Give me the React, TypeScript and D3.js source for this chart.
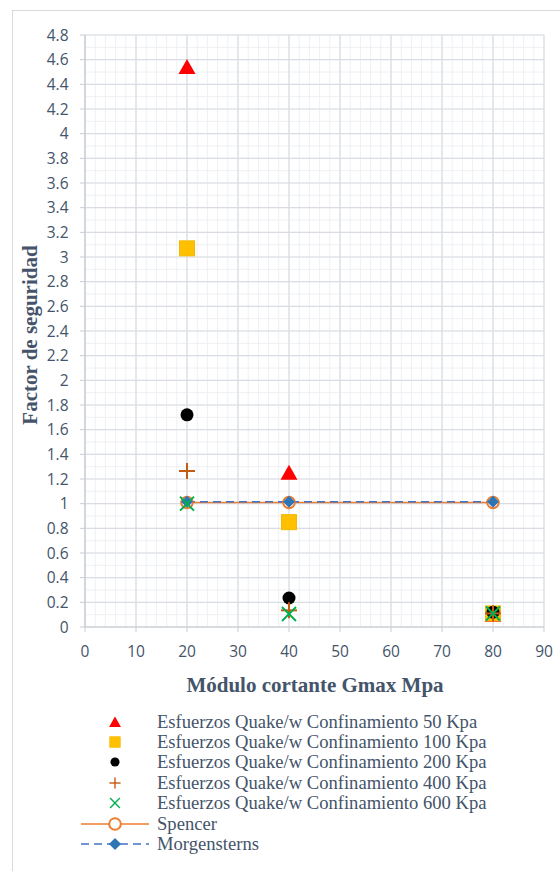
import React from "react";
import * as d3 from "d3";

const xTicks = [0, 10, 20, 30, 40, 50, 60, 70, 80, 90];
const yTicks = [0, 0.2, 0.4, 0.6, 0.8, 1, 1.2, 1.4, 1.6, 1.8, 2, 2.2, 2.4, 2.6, 2.8, 3, 3.2, 3.4, 3.6, 3.8, 4, 4.2, 4.4, 4.6, 4.8];
const gmax = [20, 40, 80];
const kpa50 = [4.54, 1.25, 0.1];
const kpa100 = [3.07, 0.85, 0.11];
const kpa200 = [1.72, 0.235, 0.12];
const kpa400 = [1.265, 0.135, 0.11];
const kpa600 = [1.0, 0.105, 0.11];
const spencer = [1.01, 1.01, 1.01];
const morgensterns = [1.015, 1.015, 1.015];
const legendLabels = [
  "Esfuerzos Quake/w Confinamiento 50 Kpa",
  "Esfuerzos Quake/w Confinamiento 100 Kpa",
  "Esfuerzos Quake/w Confinamiento 200 Kpa",
  "Esfuerzos Quake/w Confinamiento 400 Kpa",
  "Esfuerzos Quake/w Confinamiento 600 Kpa",
  "Spencer",
  "Morgensterns",
];

const TXT = "#44546a";
const serif = "'Liberation Serif', 'Times New Roman', serif";
const sans = "'Open Sans', 'Liberation Sans', sans-serif";

function Marker({ kind, x, y }: { kind: string; x: number; y: number }) {
  switch (kind) {
    case "tri":
      return <path d={`M${x},${y - 8} L${x + 8.5},${y + 7} L${x - 8.5},${y + 7} Z`} fill="#ff0000" />;
    case "sq":
      return <rect x={x - 7.5} y={y - 7.5} width={15} height={15} fill="#ffc000" stroke="#f5b800" strokeWidth={1} />;
    case "circ":
      return <circle cx={x} cy={y} r={6.5} fill="#000" />;
    case "plus":
      return (
        <g stroke="#c55a11" strokeWidth={2}>
          <line x1={x - 8} y1={y} x2={x + 8} y2={y} />
          <line x1={x} y1={y - 8} x2={x} y2={y + 8} />
        </g>
      );
    case "x":
      return (
        <g stroke="#00b050" strokeWidth={2}>
          <line x1={x - 7} y1={y - 7} x2={x + 7} y2={y + 7} />
          <line x1={x - 7} y1={y + 7} x2={x + 7} y2={y - 7} />
        </g>
      );
    case "ocirc":
      return <circle cx={x} cy={y} r={5.8} fill="#fff" stroke="#ed7d31" strokeWidth={2} />;
    case "dia":
      return <path d={`M${x},${y - 6} L${x + 6},${y} L${x},${y + 6} L${x - 6},${y} Z`} fill="#2e75b6" />;
    default:
      return null;
  }
}

export default function App() {
  const x = d3.scaleLinear().domain([0, 90]).range([85, 544]);
  const y = d3.scaleLinear().domain([0, 4.8]).range([627, 35]);
  const minorX = d3.range(0, 90.01, 2);
  const minorY = d3.range(0, 4.801, 0.1);
  const line = d3.line<number>().x((_, i) => x(gmax[i])).y((v) => y(v));

  const scatter: [string, number[]][] = [
    ["tri", kpa50],
    ["sq", kpa100],
    ["circ", kpa200],
    ["plus", kpa400],
    ["x", kpa600],
  ];
  const legendKinds = ["tri", "sq", "circ", "plus", "x", "ocirc", "dia"];
  const legendY = [722, 742, 762, 783, 803, 824, 844];

  return (
    <svg width={560} height={871} style={{ position: "absolute", left: 0, top: 0 }}>
      <rect x={0} y={0} width={560} height={871} fill="#fff" />
      <rect x={12.5} y={10.5} width={560} height={880} fill="#fff" stroke="#d9d9d9" />
      {minorX.map((v) => (
        <line key={"mx" + v} x1={x(v)} x2={x(v)} y1={y(0)} y2={y(4.8)} stroke="#eef0f3" strokeWidth={1} />
      ))}
      {minorY.map((v) => (
        <line key={"my" + v} x1={x(0)} x2={x(90)} y1={y(v)} y2={y(v)} stroke="#eef0f3" strokeWidth={1} />
      ))}
      {xTicks.map((v) => (
        <line key={"gx" + v} x1={x(v)} x2={x(v)} y1={y(0)} y2={y(4.8)} stroke="#d9dde3" strokeWidth={1.2} />
      ))}
      {yTicks.map((v) => (
        <line key={"gy" + v} x1={x(0)} x2={x(90)} y1={y(v)} y2={y(v)} stroke="#d9dde3" strokeWidth={1.2} />
      ))}
      <line x1={x(0)} x2={x(0)} y1={y(0)} y2={y(4.8)} stroke="#c8ccd2" strokeWidth={1.2} />
      <line x1={x(0)} x2={x(90)} y1={y(0)} y2={y(0)} stroke="#c8ccd2" strokeWidth={1.2} />
      {xTicks.map((v) => (
        <g key={"tx" + v}>
          <line x1={x(v)} x2={x(v)} y1={y(0)} y2={y(0) + 5} stroke="#c8ccd2" />
          <text x={x(v)} y={657} textAnchor="middle" fontFamily={sans} fontSize={15.5} fill={TXT}>
            {v}
          </text>
        </g>
      ))}
      {yTicks.map((v) => (
        <g key={"ty" + v}>
          <line x1={x(0) - 5} x2={x(0)} y1={y(v)} y2={y(v)} stroke="#c8ccd2" />
          <text x={68.5} y={y(v) + 5.5} textAnchor="end" fontFamily={sans} fontSize={15.5} fill={TXT}>
            {d3.format("~g")(+v.toFixed(1))}
          </text>
        </g>
      ))}
      <text x={315} y={692} textAnchor="middle" fontFamily={serif} fontWeight="bold" fontSize={21} fill={TXT}>
        Módulo cortante Gmax Mpa
      </text>
      <text
        transform={`translate(37,${y(2.4) + 4}) rotate(-90)`}
        textAnchor="middle"
        fontFamily={serif}
        fontWeight="bold"
        fontSize={21}
        fill={TXT}
      >
        Factor de seguridad
      </text>

      <path d={line(spencer) || ""} fill="none" stroke="#ed7d31" strokeWidth={1.6} />
      <path d={line(morgensterns) || ""} fill="none" stroke="#4472c4" strokeWidth={1.6} strokeDasharray="8,5" />
      {spencer.map((v, i) => (
        <Marker key={"sp" + i} kind="ocirc" x={x(gmax[i])} y={y(v)} />
      ))}
      {morgensterns.map((v, i) => (
        <Marker key={"mo" + i} kind="dia" x={x(gmax[i])} y={y(v)} />
      ))}
      {scatter.map(([k, vals]) =>
        vals.map((v, i) => <Marker key={k + i} kind={k} x={x(gmax[i])} y={y(v)} />)
      )}

      {legendLabels.map((lab, i) => (
        <g key={"lg" + i}>
          {i === 5 && <line x1={81} x2={149} y1={legendY[i]} y2={legendY[i]} stroke="#ed7d31" strokeWidth={1.6} />}
          {i === 6 && (
            <line x1={81} x2={149} y1={legendY[i]} y2={legendY[i]} stroke="#4472c4" strokeWidth={1.6} strokeDasharray="8,5" />
          )}
          <g transform={i < 5 ? `translate(${115},${legendY[i]}) scale(0.7) translate(${-115},${-legendY[i]})` : undefined}>
            <Marker kind={legendKinds[i]} x={115} y={legendY[i]} />
          </g>
          <text x={157} y={legendY[i] + 5.8} fontFamily={serif} fontSize={18.6} fill={TXT}>
            {lab}
          </text>
        </g>
      ))}
    </svg>
  );
}
